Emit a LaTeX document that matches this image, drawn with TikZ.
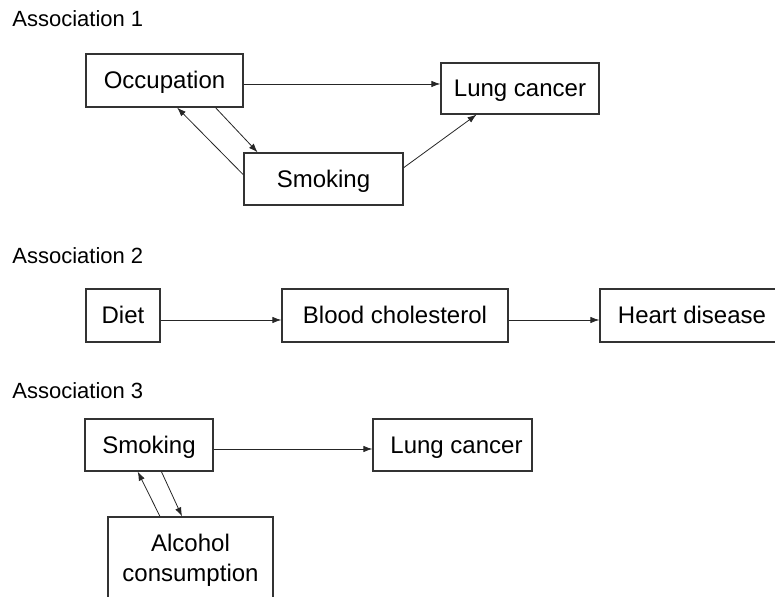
\documentclass[tikz,border=0pt]{standalone}
\usepackage{fontspec}
\setmainfont{Liberation Sans}
\usetikzlibrary{arrows.meta}
\begin{document}
\begin{tikzpicture}[x=0.5pt,y=-0.5pt,
    box/.style={draw=black!80,line width=0.6pt,inner sep=0pt,
      minimum height=26.5pt,font=\fontsize{12}{15}\selectfont},
    tbox/.style={box,text height=10pt,text depth=1.5pt},
    arr/.style={-{Latex[length=4.5pt,width=3.2pt]},line width=0.4pt,draw=black!85},
    heading/.style={anchor=base west,inner sep=0pt,font=\fontsize{11}{13}\selectfont}]
  \useasboundingbox (0,0) rectangle (775,597);
  \clip (0,0) rectangle (775,597);

  % association 1
  \node[heading] (head1) at (12,27) {Association 1};
  \node[tbox,minimum width=78.5pt] (occ) at (164.5,80.5) {Occupation};
  \node[tbox,minimum width=79pt,minimum height=25.5pt] (lung1) at (520,88.5) {Lung cancer};
  \node[tbox,minimum width=79.5pt,minimum height=26pt] (smoke1) at (323.5,179) {Smoking};
  \draw[arr] ([yshift=-1.75pt]occ.east) -- ([yshift=-1.75pt]occ.east -| lung1.west);
  \draw[arr] (occ.-28) -- (smoke1.158);
  \draw[arr] (smoke1.177) -- (occ.-65);
  \draw[arr] (smoke1.8) -- (lung1.211);

  % association 2
  \node[heading] (head2) at (12,264) {Association 2};
  \node[tbox,minimum width=37pt] (diet) at (123,315.5) {Diet};
  \node[tbox,minimum width=113pt] (chol) at (395,315.5) {Blood cholesterol};
  \node[tbox,minimum width=92pt] (heart) at (692,315.5) {Heart disease};
  \draw[arr] ([yshift=-2.25pt]diet.east) -- ([yshift=-2.25pt]diet.east -| chol.west);
  \draw[arr] ([yshift=-2.25pt]chol.east) -- ([yshift=-2.25pt]chol.east -| heart.west);

  % association 3
  \node[heading] (head3) at (12,399) {Association 3};
  \node[tbox,minimum width=64pt,minimum height=26pt] (smoke3) at (149,445) {Smoking};
  \node[tbox,minimum width=79.5pt,minimum height=26pt] (lung3) at (452.5,445) {\hspace{4pt}Lung cancer};
  \node[box,align=center,minimum width=82.5pt,minimum height=43pt] (alc) at (190.5,560) {Alcohol\\consumption};
  \draw[arr] ([yshift=-2pt]smoke3.east) -- ([yshift=-2pt]smoke3.east -| lung3.west);
  \draw[arr] (alc.125) -- (smoke3.247);
  \draw[arr] (smoke3.-65) -- (alc.101);
\end{tikzpicture}
\end{document}
